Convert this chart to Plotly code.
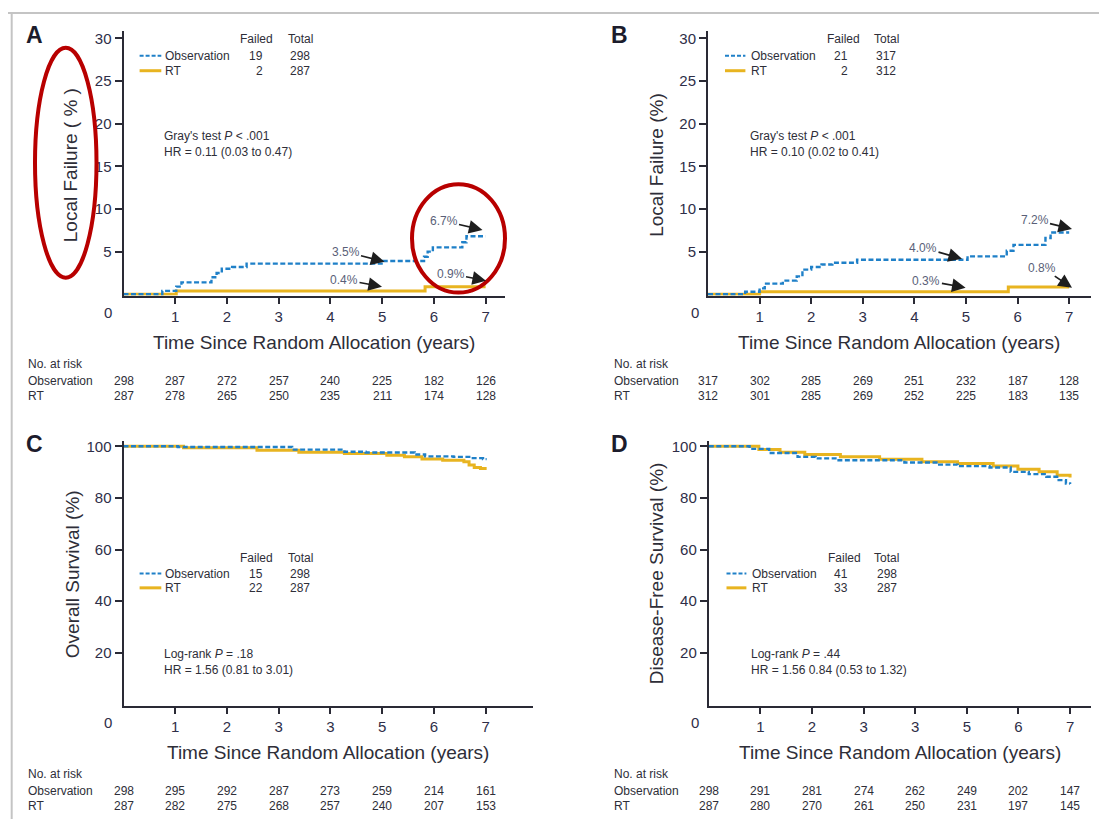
import plotly.graph_objects as go

W, H = 1107, 819
OFF = 8  # default page margin of the html body
FW, FH = W - OFF, H - OFF

# ---------------- data ----------------
tick_vals = [1, 2, 3, 4, 5, 6, 7]
tick_text_AB = ["1", "2", "3", "4", "5", "6", "7"]
tick_text_CD = ["1", "2", "3", "3", "5", "6", "7"]
risk_times = [0, 1, 2, 3, 4, 5, 6, 7]

A_obs_t = [0, 0.75, 1.02, 1.12, 1.70, 1.80, 1.90, 2.10, 2.38, 5.02, 5.81, 5.88, 5.98, 6.55, 6.63, 7.0]
A_obs_v = [0, 0.4, 0.9, 1.4, 2.0, 2.5, 3.0, 3.2, 3.6, 3.9, 4.4, 5.0, 5.5, 6.1, 6.8, 6.8]
A_rt_t = [0, 1.02, 5.83, 7.0]
A_rt_v = [0, 0.4, 0.9, 0.9]

B_obs_t = [0, 0.72, 1.0, 1.1, 1.45, 1.72, 1.83, 2.0, 2.2, 2.41, 2.89, 5.03, 5.79, 5.92, 6.54, 6.64, 7.0]
B_obs_v = [0, 0.3, 0.7, 1.25, 1.6, 2.1, 2.9, 3.2, 3.5, 3.7, 4.05, 4.45, 5.1, 5.8, 6.6, 7.25, 7.25]
B_rt_t = [0, 1.0, 5.82, 7.0]
B_rt_v = [0, 0.3, 0.85, 0.85]

C_obs_t = [0, 1.05, 3.26, 4.27, 4.68, 5.63, 5.83, 6.38, 6.72, 6.95, 7.02]
C_obs_v = [100, 99.7, 98.7, 97.9, 97.6, 96.8, 96.1, 95.9, 95.4, 95.0, 95.0]
C_rt_t = [0, 1.16, 2.58, 3.39, 4.27, 5.09, 5.43, 5.77, 6.17, 6.58, 6.68, 6.78, 6.9, 7.02]
C_rt_v = [100, 99.4, 98.5, 97.7, 97.2, 96.5, 95.9, 95.1, 94.6, 94.0, 92.7, 91.8, 91.4, 91.4]

D_obs_t = [0, 0.79, 1.17, 1.72, 2.07, 2.48, 3.79, 4.41, 4.82, 5.44, 5.85, 6.2, 6.54, 6.75, 6.92, 7.0]
D_obs_v = [100, 99.0, 97.4, 95.9, 95.3, 94.6, 93.7, 92.9, 92.3, 91.8, 90.1, 89.2, 88.2, 86.9, 85.6, 85.4]
D_rt_t = [0, 0.97, 1.38, 1.86, 2.55, 3.31, 4.13, 4.82, 5.51, 5.99, 6.4, 6.75, 7.0]
D_rt_v = [100, 98.7, 97.7, 96.8, 95.9, 95.0, 94.0, 93.3, 92.4, 91.1, 90.1, 88.8, 87.9]

A_risk_obs = [298, 287, 272, 257, 240, 225, 182, 126]
A_risk_rt = [287, 278, 265, 250, 235, 211, 174, 128]
B_risk_obs = [317, 302, 285, 269, 251, 232, 187, 128]
B_risk_rt = [312, 301, 285, 269, 252, 225, 183, 135]
C_risk_obs = [298, 295, 292, 287, 273, 259, 214, 161]
C_risk_rt = [287, 282, 275, 268, 257, 240, 207, 153]
D_risk_obs = [298, 291, 281, 274, 262, 249, 202, 147]
D_risk_rt = [287, 280, 270, 261, 250, 231, 197, 145]

A_failed = [19, 2]; A_total = [298, 287]
B_failed = [21, 2]; B_total = [317, 312]
C_failed = [15, 22]; C_total = [298, 287]
D_failed = [41, 33]; D_total = [298, 287]

A_stats = ["Gray's test <i>P</i> &lt; .001", "HR = 0.11 (0.03 to 0.47)"]
B_stats = ["Gray's test <i>P</i> &lt; .001", "HR = 0.10 (0.02 to 0.41)"]
C_stats = ["Log-rank <i>P</i> = .18", "HR = 1.56 (0.81 to 3.01)"]
D_stats = ["Log-rank <i>P</i> = .44", "HR = 1.56 0.84 (0.53 to 1.32)"]

A_pct_labels = ["3.5%", "0.4%", "6.7%", "0.9%"]
B_pct_labels = ["4.0%", "0.3%", "7.2%", "0.8%"]

groups = ["Observation", "RT"]
x_title = "Time Since Random Allocation (years)"
y_titles = ["Local Failure ( % )", "Local Failure (%)", "Overall Survival (%)", "Disease-Free Survival (%)"]
panel_letters = ["A", "B", "C", "D"]

# ---------------- styling / layout ----------------
BLUE = "#1f80c8"
GOLD = "#e8b420"
AX = "#2a2a35"
TXT = "#2e2e38"
TICKC = "#2e2e48"
SANS = "Liberation Sans, Arial, Helvetica, sans-serif"


def px(x):
    return (x - OFF) / FW


def py(y):
    return 1 - (y - OFF) / FH


annotations = []


def ann(text, x, y, xanchor="center", yanchor="middle", xref="paper", yref="paper", **kw):
    d = dict(text=text, x=x, y=y, xref=xref, yref=yref, xanchor=xanchor, yanchor=yanchor,
             showarrow=False)
    d.update(kw)
    annotations.append(d)


panels = [
    dict(x0=123.5, x1=505, y0=26.7, y1=293, xmax=7.375, yr=[-0.15, 30.92],
         yt=[5, 10, 15, 20, 25, 30], tt=tick_text_AB,
         obs=(A_obs_t, A_obs_v), rt=(A_rt_t, A_rt_v), ytitle_x=70, ytitle_y=162,
         leg_line=(139.6, 161.3), leg_text=163, fail_c=256.7, tot_c=300.6, fail_r=264.8, tot_r=311.5,
         leg_y=(35, 52, 67), failed=A_failed, total=A_total, stats=A_stats, stats_x=162.4, stats_y=(133, 149),
         risk_x=26, risk_y=(362, 379, 394), risk=(A_risk_obs, A_risk_rt), letter_xy=(34, 31),
         zero_xy=(108, 310), xtitle_y=340),
    dict(x0=708, x1=1090.7, y0=26.7, y1=293, xmax=7.417, yr=[-0.15, 30.92],
         yt=[5, 10, 15, 20, 25, 30], tt=tick_text_AB,
         obs=(B_obs_t, B_obs_v), rt=(B_rt_t, B_rt_v), ytitle_x=656.6, ytitle_y=162,
         leg_line=(725, 745.4), leg_text=749, fail_c=843, tot_c=886.4, fail_r=850, tot_r=898,
         leg_y=(35, 52, 67), failed=B_failed, total=B_total, stats=B_stats, stats_x=747.9, stats_y=(133, 149),
         risk_x=612, risk_y=(362, 379, 394), risk=(B_risk_obs, B_risk_rt), letter_xy=(619, 31),
         zero_xy=(695, 310), xtitle_y=340),
    dict(x0=123.5, x1=533, y0=439.3, y1=705.3, xmax=7.916, yr=[-0.5, 101.97],
         yt=[20, 40, 60, 80, 100], tt=tick_text_CD,
         obs=(C_obs_t, C_obs_v), rt=(C_rt_t, C_rt_v), ytitle_x=72, ytitle_y=573,
         leg_line=(139.6, 161.3), leg_text=163, fail_c=256.7, tot_c=300.6, fail_r=264.8, tot_r=311.5,
         leg_y=(556.7, 572.3, 586.7), failed=C_failed, total=C_total, stats=C_stats, stats_x=162.4,
         stats_y=(652.7, 669.3),
         risk_x=26, risk_y=(773.3, 790.7, 806), risk=(C_risk_obs, C_risk_rt), letter_xy=(34, 442),
         zero_xy=(108, 722), xtitle_y=752),
    dict(x0=708.8, x1=1090.7, y0=439.3, y1=705.3, xmax=7.40, yr=[-0.5, 101.97],
         yt=[20, 40, 60, 80, 100], tt=tick_text_CD,
         obs=(D_obs_t, D_obs_v), rt=(D_rt_t, D_rt_v), ytitle_x=656.6, ytitle_y=572.5,
         leg_line=(726.5, 746.4), leg_text=750, fail_c=844, tot_c=886.8, fail_r=850, tot_r=898.8,
         leg_y=(556.7, 572.3, 586.7), failed=D_failed, total=D_total, stats=D_stats, stats_x=749,
         stats_y=(652.7, 669.3),
         risk_x=612, risk_y=(773.3, 790.7, 806), risk=(D_risk_obs, D_risk_rt), letter_xy=(619, 442),
         zero_xy=(695, 722), xtitle_y=752),
]

fig = go.Figure()
shapes = []
layout_axes = {}
small = dict(family=SANS, size=12, color=TXT)
tickfont = dict(family=SANS, size=15, color=TICKC)

for i, p in enumerate(panels):
    n = "" if i == 0 else str(i + 1)
    xa, ya = "x" + n, "y" + n
    layout_axes["xaxis" + n] = dict(
        domain=[px(p["x0"]), px(p["x1"])], range=[0, p["xmax"]], anchor=ya,
        tickvals=tick_vals, ticktext=p["tt"], ticks="outside", ticklen=6, tickwidth=1.8,
        tickcolor=AX, showline=True, linewidth=2, linecolor=AX, showgrid=False, zeroline=False,
        tickfont=tickfont, fixedrange=True)
    layout_axes["yaxis" + n] = dict(
        domain=[py(p["y1"]), py(p["y0"])], range=p["yr"], anchor=xa,
        tickvals=p["yt"], ticks="outside", ticklen=7, tickwidth=1.8,
        tickcolor=AX, showline=True, linewidth=2, linecolor=AX, showgrid=False, zeroline=False,
        tickfont=tickfont, fixedrange=True)

    fig.add_trace(go.Scatter(x=p["rt"][0], y=p["rt"][1], mode="lines", line_shape="hv",
                             line=dict(color=GOLD, width=3), xaxis=xa, yaxis=ya, showlegend=False,
                             name="RT"))
    fig.add_trace(go.Scatter(x=p["obs"][0], y=p["obs"][1], mode="lines", line_shape="hv",
                             line=dict(color=BLUE, width=2.4, dash="5px,2.5px"), xaxis=xa, yaxis=ya,
                             showlegend=False, name="Observation"))

    ann("<b>%s</b>" % panel_letters[i], px(p["letter_xy"][0]), py(p["letter_xy"][1]),
        font=dict(family=SANS, size=23, color="#1c1c2c"))
    ann("0", px(p["zero_xy"][0]), py(p["zero_xy"][1]), font=tickfont)
    ann(x_title, px((p["x0"] + p["x1"]) / 2), py(p["xtitle_y"]),
        font=dict(family=SANS, size=19, color=TXT))
    ann(y_titles[i], px(p["ytitle_x"]), py(p["ytitle_y"]), textangle=-90,
        font=dict(family=SANS, size=19, color=TXT))

    # legend block
    ann("Failed", px(p["fail_c"]), py(p["leg_y"][0]), font=small)
    ann("Total", px(p["tot_c"]), py(p["leg_y"][0]), font=small)
    for k, g in enumerate(groups):
        yy = p["leg_y"][k + 1]
        ann(g, px(p["leg_text"]), py(yy), xanchor="left", font=small)
        ann(str(p["failed"][k]), px(p["fail_r"]), py(yy), xanchor="right", font=small)
        ann(str(p["total"][k]), px(p["tot_r"]), py(yy), xanchor="right", font=small)
        if k == 0:
            ln = dict(color=BLUE, width=2, dash="4px,2px")
        else:
            ln = dict(color=GOLD, width=3)
        shapes.append(dict(type="line", xref="paper", yref="paper", x0=px(p["leg_line"][0]),
                           x1=px(p["leg_line"][1]), y0=py(yy), y1=py(yy), line=ln))
    # stats
    for k, s in enumerate(p["stats"]):
        ann(s, px(p["stats_x"]), py(p["stats_y"][k]), xanchor="left", font=small)
    # numbers at risk
    ann("No. at risk", px(p["risk_x"]), py(p["risk_y"][0]), xanchor="left", font=small)
    for k, g in enumerate(groups):
        yy = p["risk_y"][k + 1]
        ann(g, px(p["risk_x"]), py(yy), xanchor="left", font=small)
        for t, v in zip(risk_times, p["risk"][k]):
            ann(str(v), t, py(yy), xref=xa, font=small)

# percentage callouts with arrows: (text centre px, arrow head px)
callouts = [
    (A_pct_labels[0], (345.5, 249), (384.5, 259)),
    (A_pct_labels[1], (344.0, 277), (382.0, 284)),
    (A_pct_labels[2], (443.5, 218), (482.5, 227)),
    (A_pct_labels[3], (450.5, 271), (486.0, 278)),
    (B_pct_labels[0], (923.0, 245), (962.0, 256)),
    (B_pct_labels[1], (926.4, 278), (965.6, 285)),
    (B_pct_labels[2], (1034.5, 217), (1072.0, 226)),
    (B_pct_labels[3], (1042.0, 265), (1072.0, 285)),
]
for txt, (cx, cy), (hx, hy) in callouts:
    annotations.append(dict(text=txt, x=px(hx), y=py(hy), xref="paper", yref="paper",
                            ax=cx - hx, ay=cy - hy, showarrow=True, arrowhead=2, arrowsize=1.6,
                            arrowwidth=1.7, arrowcolor="#1e1e1e", standoff=0,
                            font=dict(family=SANS, size=12, color="#5a5f78")))

# red highlight ellipses
shapes.append(dict(type="circle", xref="paper", yref="paper", x0=px(35), x1=px(96.5), y0=py(44), y1=py(275),
                   line=dict(color="#b80000", width=4)))
shapes.append(dict(type="circle", xref="paper", yref="paper", x0=px(412), x1=px(505), y0=py(181), y1=py(290),
                   line=dict(color="#b80000", width=4)))
# screenshot frame
shapes.append(dict(type="line", xref="paper", yref="paper", x0=0, x1=1, y0=py(9), y1=py(9),
                   line=dict(color="#c4c4c4", width=2)))
shapes.append(dict(type="line", xref="paper", yref="paper", x0=px(11.7), x1=px(11.7), y0=0, y1=py(9),
                   line=dict(color="#c4c4c4", width=2)))

fig.update_layout(width=FW, height=FH, margin=dict(l=0, r=0, t=0, b=0), paper_bgcolor="white",
                  plot_bgcolor="white", annotations=annotations, shapes=shapes, showlegend=False,
                  **layout_axes)

fig.write_html("out.html")
